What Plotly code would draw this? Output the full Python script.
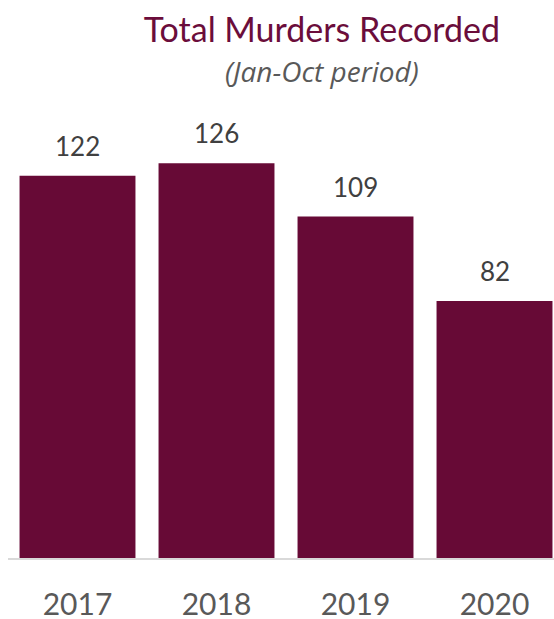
import plotly.graph_objects as go

years = ["2017", "2018", "2019", "2020"]
murders = [122, 126, 109, 82]

title_text = "Total Murders Recorded"
subtitle_text = "(Jan-Oct period)"

BAR = "#670A36"
GRAY = "#595959"

fig = go.Figure(go.Bar(
    x=years, y=murders, width=0.834,
    marker=dict(color=BAR, line=dict(width=0)),
    hoverinfo="skip",
))

for i, v in enumerate(murders):
    fig.add_annotation(x=i, y=v, text=str(v), showarrow=False,
                       xref="x", yref="y",
                       yanchor="bottom", yshift=12,
                       font=dict(family="Lato", size=26, color="#404040"))

fig.add_annotation(xref="paper", yref="paper", x=0.575, y=1.063,
                   text="<i>" + subtitle_text + "</i>", showarrow=False,
                   xanchor="center", yanchor="middle",
                   font=dict(family="Open Sans", size=28, color=GRAY))

fig.update_layout(
    width=554, height=619,
    margin=dict(l=8, r=0, t=100, b=61),
    paper_bgcolor="white", plot_bgcolor="white",
    showlegend=False,
    title=dict(text=title_text, x=0.581, y=0.9515, xanchor="center", yanchor="middle",
               xref="container", yref="container",
               font=dict(family="Lato", size=34, color="#6B0D3B")),
    xaxis=dict(type="category", range=[-0.5, 3.428], showline=True,
               linecolor="#D9D9D9", linewidth=2, showgrid=False, zeroline=False,
               ticks="", ticklabelstandoff=19, automargin=False,
               tickfont=dict(family="Lato", size=30, color=GRAY)),
    yaxis=dict(visible=False, range=[0, 146.2], showgrid=False, zeroline=False,
               automargin=False),
)

fig.write_html("out.html", config={"displayModeBar": False},
               post_script="document.body.style.margin='0';document.body.style.overflow='hidden';")
